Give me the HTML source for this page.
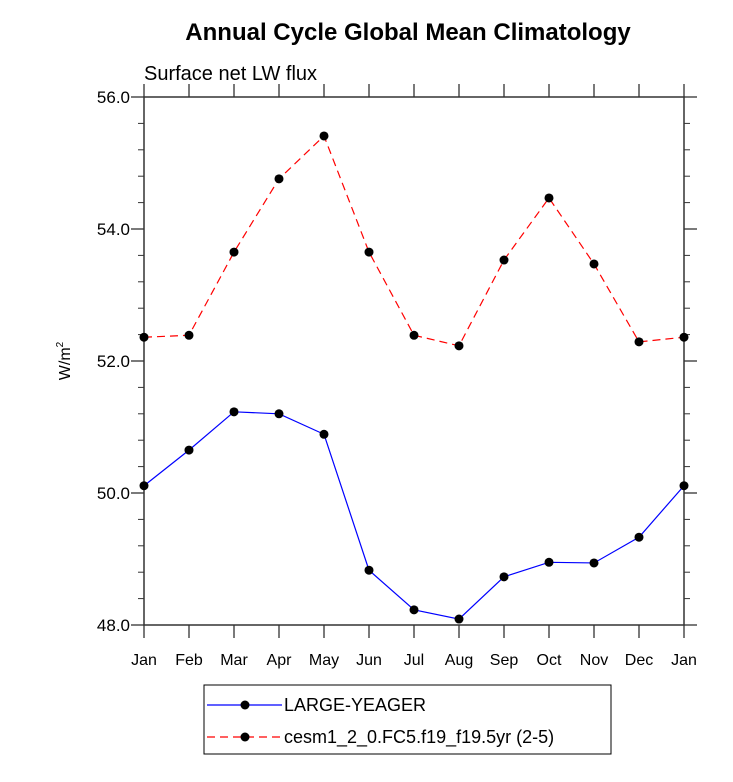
<!DOCTYPE html>
<html><head><meta charset="utf-8"><style>
body{margin:0;background:#fff}
svg text{font-family:"Liberation Sans",sans-serif;fill:#000}
</style></head><body>
<svg id="chart" width="733" height="777" xmlns="http://www.w3.org/2000/svg">
<text x="408" y="40" font-size="24" font-weight="bold" text-anchor="middle">Annual Cycle Global Mean Climatology</text>
<text x="144" y="80" font-size="20">Surface net LW flux</text>
<text transform="translate(70,361) rotate(-90)" font-size="16" text-anchor="middle">W/m<tspan font-size="10" dy="-7">2</tspan></text>
<g id="axes"></g>
<g id="series"></g>
<g>
<rect x="204" y="685" width="407" height="69" fill="none" stroke="#000" stroke-width="1"/>
<line x1="207" y1="705" x2="282" y2="705" stroke="#0000ff" stroke-width="1.2"/>
<circle cx="245" cy="705" r="4.5" fill="#000"/>
<text x="284" y="711" font-size="18">LARGE-YEAGER</text>
<line x1="207" y1="737" x2="282" y2="737" stroke="#ff0000" stroke-width="1.2" stroke-dasharray="8,5"/>
<circle cx="245" cy="737" r="4.5" fill="#000"/>
<text x="284" y="743" font-size="18">cesm1_2_0.FC5.f19_f19.5yr (2-5)</text>
</g>
</svg>
<script>
const months=["Jan","Feb","Mar","Apr","May","Jun","Jul","Aug","Sep","Oct","Nov","Dec","Jan"];
const blueValues=[50.11,50.65,51.23,51.2,50.89,48.83,48.23,48.09,48.73,48.95,48.94,49.33,50.11];
const redValues=[52.36,52.39,53.65,54.76,55.41,53.65,52.39,52.23,53.53,54.47,53.47,52.29,52.36];
const yTicks=[48,50,52,54,56];
const yTickLabels=["48.0","50.0","52.0","54.0","56.0"];
const X0=144,X1=684,Y0=625,Y1=97,YMIN=48,YMAX=56;
const xs=i=>X0+(X1-X0)*i/(months.length-1);
const ys=v=>Y0-(v-YMIN)/(YMAX-YMIN)*(Y0-Y1);
const NS="http://www.w3.org/2000/svg";
function mk(t,a,p){const e=document.createElementNS(NS,t);for(const k in a)e.setAttribute(k,a[k]);p.appendChild(e);return e;}
const ax=document.getElementById('axes');
const fr=mk('rect',{x:X0,y:Y1,width:X1-X0,height:Y0-Y1,fill:'none',stroke:'#333','stroke-width':1.5},ax);


yTicks.forEach((v,i)=>{const y=ys(v);
mk('line',{x1:X0-13,y1:y,x2:X0,y2:y,stroke:'#333','stroke-width':1.3},ax);
mk('line',{x1:X1,y1:y,x2:X1+13,y2:y,stroke:'#333','stroke-width':1.3},ax);
const t=mk('text',{x:X0-14,y:y+6,'font-size':17,'text-anchor':'end'},ax);t.textContent=yTickLabels[i];


if(i<yTicks.length-1){for(let k=1;k<5;k++){const yy=ys(v+(yTicks[i+1]-v)*k/5);
mk('line',{x1:X0-6,y1:yy,x2:X0,y2:yy,stroke:'#333'},ax);
mk('line',{x1:X1,y1:yy,x2:X1+6,y2:yy,stroke:'#333'},ax);}}
});
months.forEach((m,i)=>{const x=xs(i);
mk('line',{x1:x,y1:Y0,x2:x,y2:Y0+13,stroke:'#333','stroke-width':1.3},ax);
mk('line',{x1:x,y1:Y1-13,x2:x,y2:Y1,stroke:'#333','stroke-width':1.3},ax);
const t=mk('text',{x:x,y:Y0+40,'font-size':16,'text-anchor':'middle'},ax);t.textContent=m;


});
const sg=document.getElementById('series');
function draw(vals,color,dash,name){
const g=mk('g',{},sg);


mk('polyline',{points:vals.map((v,i)=>xs(i)+','+ys(v)).join(' '),fill:'none',stroke:color,'stroke-width':1.2,'stroke-dasharray':dash},g);
vals.forEach((v,i)=>{const c=mk('circle',{cx:xs(i),cy:ys(v),r:4.5,fill:'#000'},g);

});
}
draw(redValues,'#ff0000','8,5','series-cesm');
draw(blueValues,'#0000ff','none','series-large-yeager');
</script>
</body></html>
